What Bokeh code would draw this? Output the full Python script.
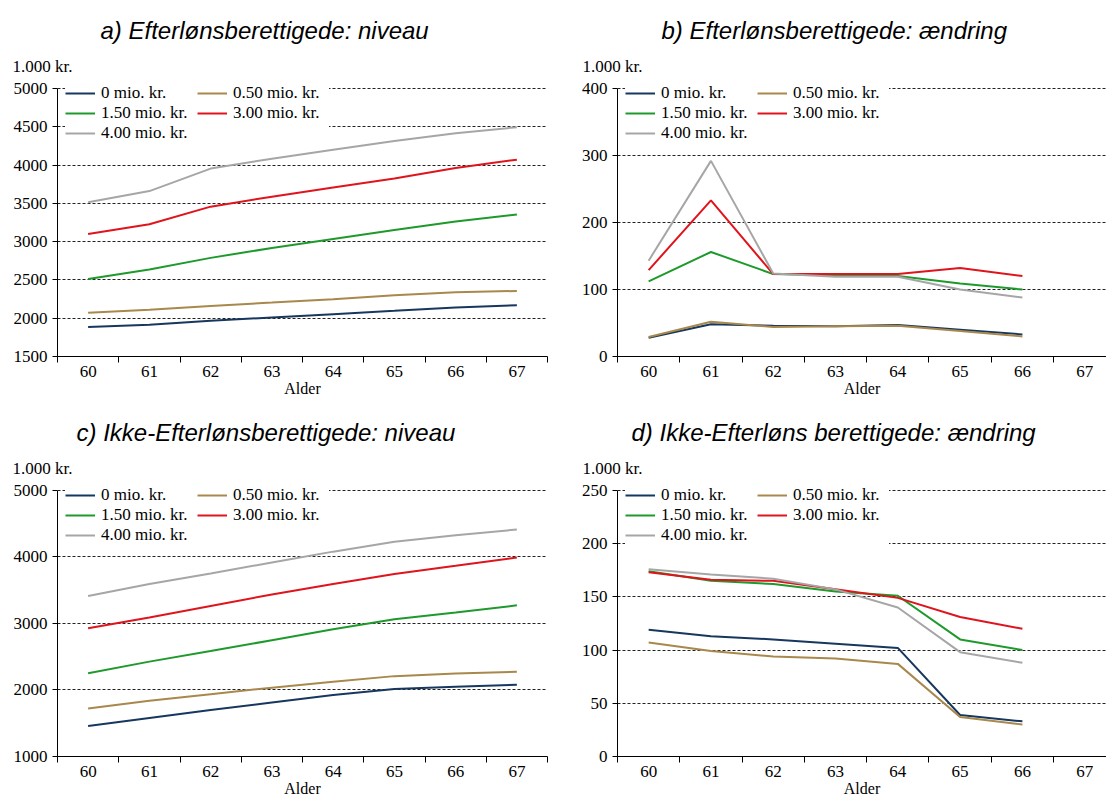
from bokeh.plotting import figure
from bokeh.layouts import gridplot
from bokeh.models import Title, FixedTicker, Legend, LegendItem, Range1d
from bokeh.embed import file_html
from bokeh.resources import INLINE

# Age categories on the x axis
ages = [60, 61, 62, 63, 64, 65, 66, 67]

# Series labels (wealth levels) and their line colours
series_labels = ["0 mio. kr.", "0.50 mio. kr.", "1.50 mio. kr.", "3.00 mio. kr.", "4.00 mio. kr."]
series_colors = ["#17375E", "#A8884C", "#1E9A2C", "#E0141C", "#A6A6A6"]

# a) Efterlønsberettigede: niveau (1.000 kr.)
a_0 = [1885, 1915, 1967, 2010, 2053, 2096, 2140, 2170]
a_050 = [2070, 2109, 2161, 2204, 2248, 2299, 2338, 2356]
a_150 = [2511, 2636, 2788, 2917, 3034, 3151, 3263, 3354]
a_300 = [3099, 3228, 3457, 3587, 3708, 3825, 3963, 4071]
a_400 = [3514, 3660, 3954, 4084, 4200, 4313, 4417, 4494]

# b) Efterlønsberettigede: ændring (1.000 kr.), ages 60-66
b_0 = [28, 48, 46, 45, 47, 40, 33]
b_050 = [29, 52, 44, 45, 46, 38, 30]
b_150 = [112, 156, 123, 121, 120, 109, 100]
b_300 = [129, 233, 123, 123, 123, 132, 120]
b_400 = [143, 292, 124, 119, 119, 100, 88]

# c) Ikke-Efterlønsberettigede: niveau (1.000 kr.)
c_0 = [1460, 1579, 1698, 1812, 1926, 2015, 2050, 2079]
c_050 = [1723, 1837, 1936, 2035, 2124, 2208, 2248, 2272]
c_150 = [2252, 2426, 2584, 2748, 2911, 3064, 3163, 3272]
c_300 = [2926, 3089, 3262, 3436, 3594, 3743, 3866, 3990]
c_400 = [3411, 3594, 3752, 3916, 4079, 4228, 4327, 4411]

# d) Ikke-Efterløns berettigede: ændring (1.000 kr.), ages 60-66
d_0 = [119, 113, 110, 106, 102, 39, 33]
d_050 = [107, 99, 94, 92, 87, 37, 30]
d_150 = [174, 165, 162, 155, 151, 110, 100]
d_300 = [173, 166, 165, 157, 149, 131, 120]
d_400 = [176, 171, 167, 157, 140, 98, 88]

# y-axis tick values per panel
ticks_a = [1500, 2000, 2500, 3000, 3500, 4000, 4500, 5000]
ticks_b = [0, 100, 200, 300, 400]
ticks_c = [1000, 2000, 3000, 4000, 5000]
ticks_d = [0, 50, 100, 150, 200, 250]

SERIF = "Liberation Serif"
SANS = "Liberation Sans"

# legend reads row by row: 0 | 0.50 / 1.50 | 3.00 / 4.00
LEGEND_ORDER = [0, 2, 4, 1, 3]

# head room (px) above the top tick so the legend can sit on the top grid line
HEAD = 13


def make_panel(title, series, yticks, width, height, borders, x_end,
               title_offset, unit_offset):
    left, right, top, bottom = borders
    plot_h = height - top - bottom          # pixels between lowest and highest tick
    y0, y1 = yticks[0], yticks[-1]
    y_top = y1 + (y1 - y0) * HEAD / plot_h
    p = figure(width=width, height=height, output_backend="svg", toolbar_location=None,
               x_range=Range1d(59.5, x_end), y_range=Range1d(y0, y_top),
               min_border_left=left, min_border_right=right,
               min_border_top=top - HEAD, min_border_bottom=bottom)
    p.outline_line_color = None
    p.background_fill_color = "white"
    p.border_fill_color = "white"

    # unit label just above the frame, then the panel title above it
    p.add_layout(Title(text="1.000 kr.", align="left", offset=unit_offset, standoff=-1,
                       text_font=SERIF, text_font_size="17px", text_font_style="normal",
                       text_color="black"), "above")
    p.add_layout(Title(text=title, align="left", offset=title_offset, standoff=23,
                       text_font=SANS, text_font_size="24px", text_font_style="italic",
                       text_color="black"), "above")

    # category axis: labels at the centres, tick marks between categories
    bounds = [a - 0.5 for a in ages] + [ages[-1] + 0.5]
    xa = p.xaxis[0]
    xa.ticker = FixedTicker(ticks=ages, minor_ticks=bounds)
    xa.major_tick_out = 0
    xa.major_tick_in = 0
    xa.minor_tick_out = 6
    xa.minor_tick_in = 0
    xa.minor_tick_line_color = "black"
    xa.axis_line_color = "black"
    xa.major_label_text_font = SERIF
    xa.major_label_text_font_size = "17px"
    xa.major_label_text_color = "black"
    xa.major_label_standoff = 3
    xa.axis_label = "Alder"
    xa.axis_label_text_font = SERIF
    xa.axis_label_text_font_size = "16px"
    xa.axis_label_text_font_style = "normal"
    xa.axis_label_text_color = "black"
    xa.axis_label_standoff = 0

    ya = p.yaxis[0]
    ya.ticker = FixedTicker(ticks=yticks)
    ya.bounds = (y0, y1)
    ya.major_tick_out = 5
    ya.major_tick_in = 0
    ya.minor_tick_out = 0
    ya.minor_tick_in = 0
    ya.axis_line_color = "black"
    ya.major_tick_line_color = "black"
    ya.major_label_text_font = SERIF
    ya.major_label_text_font_size = "17px"
    ya.major_label_text_color = "black"
    ya.major_label_standoff = 5

    p.xgrid.visible = False
    p.ygrid.grid_line_color = "#222222"
    p.ygrid.grid_line_dash = "3 2"
    p.ygrid.grid_line_width = 1

    renderers = []
    for color, values in zip(series_colors, series):
        r = p.line(ages[:len(values)], values, line_color=color, line_width=2)
        renderers.append(r)

    items = [LegendItem(label=series_labels[i], renderers=[renderers[i]]) for i in LEGEND_ORDER]
    legend = Legend(items=items, location="top_left", ncols=2,
                    background_fill_color="white", background_fill_alpha=1.0,
                    border_line_color=None,
                    label_text_font=SERIF,
                    label_text_font_size="17px", label_text_color="black",
                    glyph_width=30, glyph_height=18, label_height=18, label_width=96,
                    label_standoff=6, spacing=0, padding=1, margin=8)
    p.add_layout(legend)
    return p


pa = make_panel("a) Efterlønsberettigede: niveau", [a_0, a_050, a_150, a_300, a_400],
                ticks_a, 553, 400, (57, 6, 88, 44), 67.5, 43, -45)
pb = make_panel("b) Efterlønsberettigede: ændring", [b_0, b_050, b_150, b_300, b_400],
                ticks_b, 553, 400, (64, 0, 88, 44), 67.35, 44, -35)
pc = make_panel("c) Ikke-Efterlønsberettigede: niveau", [c_0, c_050, c_150, c_300, c_400],
                ticks_c, 553, 399, (57, 6, 90, 40), 67.5, 19, -45)
pd = make_panel("d) Ikke-Efterløns berettigede: ændring", [d_0, d_050, d_150, d_300, d_400],
                ticks_d, 553, 399, (64, 0, 90, 40), 67.35, 14, -35)

grid = gridplot([[pa, pb], [pc, pd]], toolbar_location=None)

open("out.html", "w").write(file_html(grid, INLINE))
